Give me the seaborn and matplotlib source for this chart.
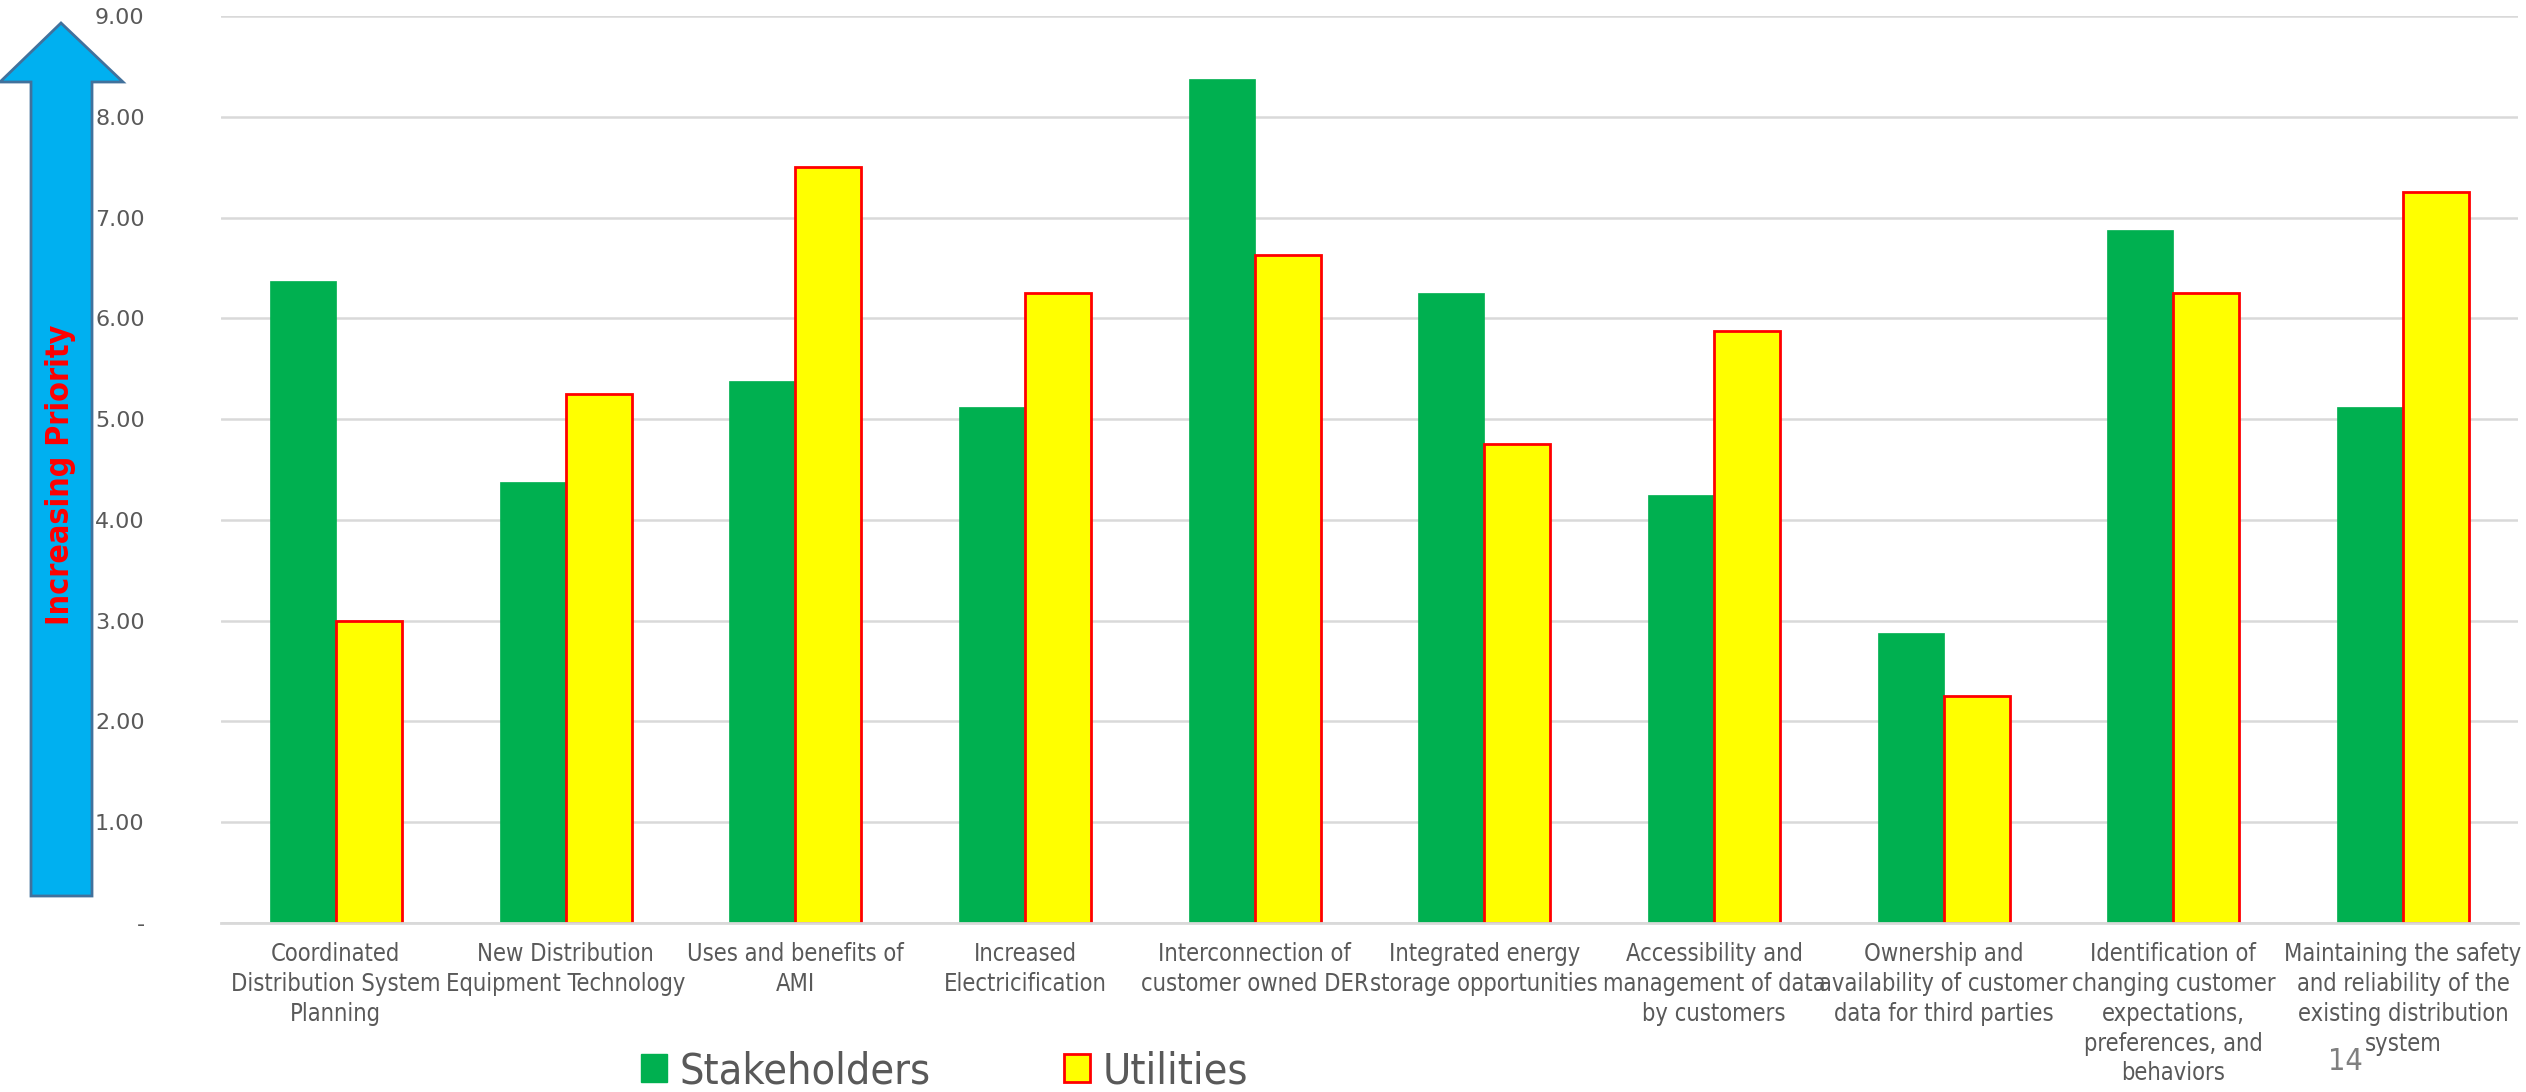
import numpy as np
import pandas as pd
import matplotlib
matplotlib.use("Agg")
import matplotlib.pyplot as plt
from matplotlib.patches import Patch, Polygon
from matplotlib import font_manager
import seaborn as sns

# chart data
categories = [
    "Coordinated\nDistribution System\nPlanning",
    "New Distribution\nEquipment Technology",
    "Uses and benefits of\nAMI",
    "Increased\nElectricification",
    "Interconnection of\ncustomer owned DER",
    "Integrated energy\nstorage opportunities",
    "Accessibility and\nmanagement of data\nby customers",
    "Ownership and\navailability of customer\ndata for third parties",
    "Identification of\nchanging customer\nexpectations,\npreferences, and\nbehaviors",
    "Maintaining the safety\nand reliability of the\nexisting distribution\nsystem",
]
stakeholders = [6.375, 4.375, 5.375, 5.125, 8.375, 6.25, 4.25, 2.875, 6.875, 5.125]
utilities = [3.00, 5.25, 7.50, 6.25, 6.625, 4.75, 5.875, 2.25, 6.25, 7.25]
series_names = ["Stakeholders", "Utilities"]
ytick_values = [0, 1, 2, 3, 4, 5, 6, 7, 8, 9]
ytick_labels = ["-", "1.00", "2.00", "3.00", "4.00", "5.00", "6.00", "7.00", "8.00", "9.00"]

GREEN = "#00B050"
YELLOW = "#FFFF00"
RED = "#FF0000"
GRAY = "#595959"

# look for a condensed face (closest to the narrow Office font)
names = {f.name for f in font_manager.fontManager.ttflist}
cond = [f for f in font_manager.fontManager.ttflist
        if f.name == "DejaVu Sans" and f.stretch == "condensed"]
if "Liberation Sans Narrow" in names:
    FONT = ["Liberation Sans Narrow", "DejaVu Sans"]
    STRETCH = "normal"
    SCALE = 1.0
elif cond:
    FONT = ["DejaVu Sans", "Liberation Sans"]
    STRETCH = "condensed"
    SCALE = 0.92
else:
    FONT = ["Liberation Sans", "DejaVu Sans"]
    STRETCH = "normal"
    SCALE = 0.85

df = pd.DataFrame({
    "category": categories * 2,
    "value": stakeholders + utilities,
    "series": [series_names[0]] * len(categories) + [series_names[1]] * len(categories),
})

sns.set_theme(style="white")
plt.rcParams["font.family"] = FONT
plt.rcParams["font.stretch"] = STRETCH

fig = plt.figure(figsize=(25.26, 10.92), dpi=100)
ax = fig.add_axes([0.0875, 0.1548, 0.9093, 0.8305])

sns.barplot(data=df, x="category", y="value", hue="series", order=categories,
            hue_order=series_names, palette=[GREEN, YELLOW], width=0.575,
            gap=0, saturation=1, errorbar=None, legend=False, ax=ax)

for bar in ax.containers[0]:
    bar.set_edgecolor(GREEN)
    bar.set_linewidth(0.5)
for bar in ax.containers[1]:
    bar.set_edgecolor(RED)
    bar.set_linewidth(2)

ax.set_ylim(0, 9)
ax.set_xlim(-0.5, len(categories) - 0.5)
ax.set_yticks(ytick_values)
ax.set_yticklabels(ytick_labels)
ax.yaxis.grid(True, color="#D9D9D9", linewidth=1.8)
ax.set_axisbelow(True)
for s in ["top", "right", "left"]:
    ax.spines[s].set_visible(False)
ax.spines["bottom"].set_color("#D9D9D9")
ax.spines["bottom"].set_linewidth(2)
ax.set_xlabel("")
ax.set_ylabel("")
ax.tick_params(axis="y", length=0, pad=55, labelsize=16, labelcolor=GRAY)
ax.tick_params(axis="x", length=0, pad=14, labelsize=18.5 * SCALE, labelcolor=GRAY)
for lab in ax.get_yticklabels():
    lab.set_fontstretch("normal")
for lab in ax.get_xticklabels():
    lab.set_linespacing(1.30)
    lab.set_verticalalignment("top")

# priority arrow on the left (pixel coords, top-left origin)
W, H = 2526, 1092
pts = [(31, 896), (31, 82), (0, 82), (61, 23), (123, 82), (92, 82), (92, 896)]
arrow = Polygon([(x / W, 1 - y / H) for x, y in pts], closed=True,
                facecolor="#00B0F0", edgecolor="#41719C", linewidth=2,
                transform=fig.transFigure)
fig.patches.append(arrow)
fig.text(61 / W, 1 - 475 / H, "Increasing Priority", rotation=90, color=RED,
         fontsize=25 * SCALE, fontweight="bold", ha="center", va="center")

handles = [Patch(facecolor=GREEN, edgecolor=GREEN),
           Patch(facecolor=YELLOW, edgecolor=RED, linewidth=2)]
fig.legend(handles, series_names, loc="center", bbox_to_anchor=(0.374, 0.019),
           ncol=2, frameon=False, fontsize=31, labelcolor=GRAY,
           handlelength=0.6, handleheight=0.6, handletextpad=0.3,
           columnspacing=3.1, borderaxespad=0, borderpad=0)

# slide number
fig.text(0.9355, 0.028, "14", color="#7F7F7F", fontsize=22, ha="right", va="center")

fig.savefig("out.png", dpi=100)
